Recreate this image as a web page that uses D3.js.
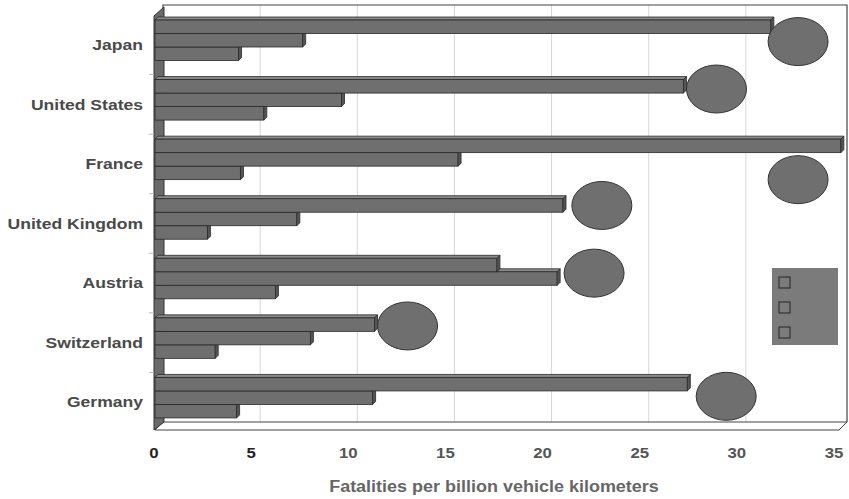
<!DOCTYPE html>
<html>
<head>
<meta charset="utf-8">
<script src="https://cdn.jsdelivr.net/npm/d3@7"></script>
<style>
  body { margin: 0; background: #fff; }
  text { font-family: "Liberation Sans", Arial, sans-serif; font-weight: bold; }
</style>
</head>
<body>
<div id="viz"></div>
<script>
var width = 849,
    height = 499;

// Data
var countries = ["Japan", "United States", "France", "United Kingdom", "Austria", "Switzerland", "Germany"];
var series1 = [31.7, 27.2, 35.3, 21.0, 17.6, 11.3, 27.4];
var series2 = [7.6, 9.6, 15.6, 7.3, 20.7, 8.0, 11.2];
var series3 = [4.3, 5.6, 4.4, 2.7, 6.2, 3.1, 4.2];
// round markers: value and which bar slot they sit next to
var markerValue = [33.1, 28.9, 33.1, 23.0, 22.6, 13.0, 29.4];
var markerSlot = [1.1, 0.2, 2.5, 0.0, 0.6, 0.1, 0.9];
var xTicks = [0, 5, 10, 15, 20, 25, 30, 35];

var depth = 8,      // depth of the walls
    barDepth = 3;   // depth of the bars

var x = d3.scaleLinear().domain([0, 35]).range([155, 835]);
var y = d3.scaleBand().domain(countries).range([15, 432]);

var barH = 13.5,
    barTop = 5;

var svg = d3.select("#viz").append("svg")
    .attr("width", width)
    .attr("height", height);

var x0 = x(0),
    floorY = y.range()[1] - 2,
    right = 847;

// gridlines on back wall
svg.append("g").selectAll("line")
    .data(xTicks.slice(1, -1))
    .enter().append("line")
    .attr("x1", function(d) { return x(d) + depth; })
    .attr("x2", function(d) { return x(d) + depth; })
    .attr("y1", 5)
    .attr("y2", floorY - depth)
    .attr("stroke", "#d6d6d6")
    .attr("stroke-width", 1);

// back wall frame
svg.append("path")
    .attr("d", "M" + (x0 + depth) + "," + (floorY - depth) + "V5H" + right + "V" + (floorY - depth))
    .attr("fill", "none")
    .attr("stroke", "#444")
    .attr("stroke-width", 1.2);

// floor
svg.append("path")
    .attr("d", "M" + x0 + "," + floorY + "L" + (x0 + depth) + "," + (floorY - depth) +
        "H" + right + "L" + (right - depth) + "," + floorY + "Z")
    .attr("fill", "#fff")
    .attr("stroke", "#444")
    .attr("stroke-width", 1);

// left wall
svg.append("path")
    .attr("d", "M" + (x0 - 1) + "," + 16 + "L" + (x0 + depth + 1) + "," + 7 +
        "V" + (floorY - depth) + "L" + (x0 - 1) + "," + floorY + "Z")
    .attr("fill", "#6a6a6a")
    .attr("stroke", "#333")
    .attr("stroke-width", 1);

// category ticks on left wall
svg.append("g").selectAll("line")
    .data(countries.slice(1))
    .enter().append("line")
    .attr("x1", x0 - 6)
    .attr("x2", x0 - 1)
    .attr("y1", function(d) { return y(d); })
    .attr("y2", function(d) { return y(d); })
    .attr("stroke", "#bbb");

function bar3d(g, v, top) {
    var xv = x(v), d = barDepth;
    g.append("path")
        .attr("d", "M" + x0 + "," + top + "L" + (x0 + d) + "," + (top - d) + "H" + (xv + d) +
            "L" + xv + "," + top + "Z")
        .attr("fill", "#8a8a8a").attr("stroke", "#2a2a2a").attr("stroke-width", 0.8);
    g.append("rect")
        .attr("x", x0).attr("y", top)
        .attr("width", xv - x0).attr("height", barH)
        .attr("fill", "#6f6f6f").attr("stroke", "#2a2a2a").attr("stroke-width", 0.8);
    g.append("path")
        .attr("d", "M" + xv + "," + top + "L" + (xv + d) + "," + (top - d) + "V" + (top + barH - d) +
            "L" + xv + "," + (top + barH) + "Z")
        .attr("fill", "#555").attr("stroke", "#2a2a2a").attr("stroke-width", 0.8);
}

var bars = svg.append("g");
countries.forEach(function(c, i) {
    var b = y(c) + barTop;
    var g = bars.append("g");
    // draw bottom first so top faces overlap correctly
    bar3d(g, series3[i], b + 2 * barH);
    bar3d(g, series2[i], b + barH);
    bar3d(g, series1[i], b);
});

// round markers
svg.append("g").selectAll("ellipse")
    .data(countries)
    .enter().append("ellipse")
    .attr("cx", function(d, i) { return x(markerValue[i]); })
    .attr("cy", function(d, i) { return y(d) + barTop + barH * (markerSlot[i] + 0.5); })
    .attr("rx", 30)
    .attr("ry", 24)
    .attr("fill", "#6f6f6f")
    .attr("stroke", "#333")
    .attr("stroke-width", 1);

// category labels (text in the original is a bit stretched horizontally)
svg.append("g").selectAll("text")
    .data(countries)
    .enter().append("text")
    .attr("transform", function(d) {
        return "translate(143," + (y(d) + y.bandwidth() / 2) + ") scale(1.17,1)";
    })
    .attr("dy", "0.35em")
    .attr("text-anchor", "end")
    .attr("font-size", 15)
    .attr("fill", "#4a4a4a")
    .text(function(d) { return d; });

// x tick labels
svg.append("g").selectAll("text")
    .data(xTicks)
    .enter().append("text")
    .attr("transform", function(d) { return "translate(" + (x(d) - 1) + ",458) scale(1.12,1)"; })
    .attr("text-anchor", "middle")
    .attr("font-size", 15)
    .attr("fill", function(d, i) { return i < 2 ? "#222" : "#555"; })
    .text(function(d) { return d; });

// axis title
svg.append("text")
    .attr("transform", "translate(494,492) scale(1.09,1)")
    .attr("text-anchor", "middle")
    .attr("font-size", 16.5)
    .attr("fill", "#666")
    .text("Fatalities per billion vehicle kilometers");

// legend
var legend = svg.append("g");
legend.append("rect")
    .attr("x", 772).attr("y", 268)
    .attr("width", 66).attr("height", 77)
    .attr("fill", "#7b7b7b");
legend.selectAll(".key")
    .data([series1, series2, series3])
    .enter().append("rect")
    .attr("class", "key")
    .attr("x", 779)
    .attr("y", function(d, i) { return 277 + i * 25; })
    .attr("width", 11).attr("height", 11)
    .attr("fill", "#7b7b7b")
    .attr("stroke", "#333")
    .attr("stroke-width", 1.2);
</script>
</body>
</html>
